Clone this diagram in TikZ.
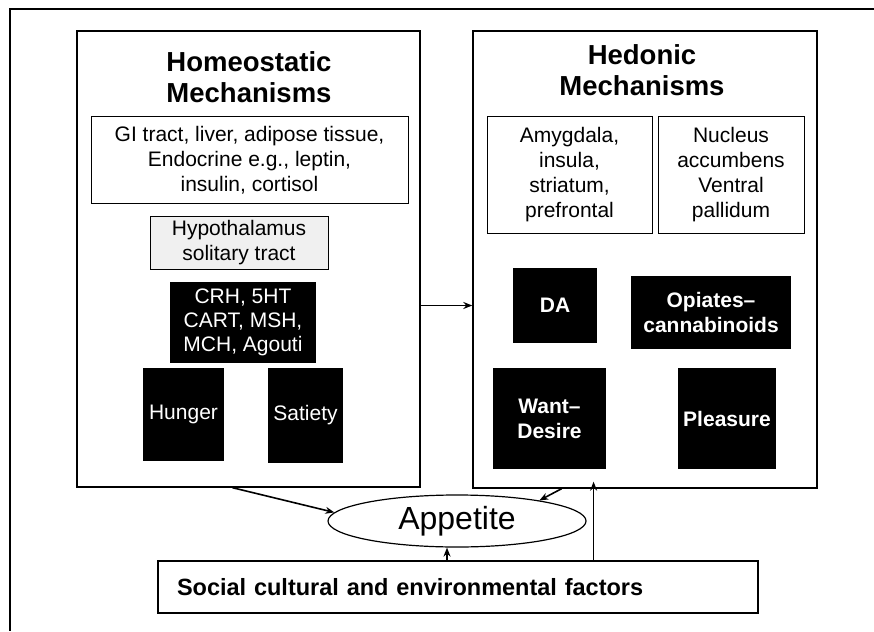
\documentclass[tikz,border=0pt]{standalone}
\usepackage{fontspec}
\setmainfont{Liberation Sans}
\usepackage{tikz}
\usetikzlibrary{shapes.geometric,arrows.meta}

\begin{document}
\begin{tikzpicture}[x=1pt,y=-1pt,
  panel/.style={draw,line width=1.4pt,inner sep=0pt},
  whitebox/.style={draw,line width=1pt,align=center,inner sep=0pt,font=\fontsize{21}{25}\selectfont},
  blackbox/.style={fill=black,text=white,align=center,inner sep=0pt,font=\fontsize{21}{24}\selectfont},
  boldbox/.style={blackbox,font=\fontsize{21}{25}\selectfont\bfseries},
  heading/.style={align=center,font=\fontsize{27.5}{31}\selectfont\bfseries},
  arr/.style={-{Stealth[length=9pt,width=7pt]},line width=1.6pt}]
\useasboundingbox (0,0) rectangle (874,631);

% Frame
\draw[line width=2pt] (874,9) -- (10,9) -- (10,631);

% Homeostatic side
\node[panel,minimum width=343,minimum height=456] (homeo) at (248.5,259) {};
\node[heading] (homeotitle) at (249,77) {Homeostatic\\Mechanisms};
\node[whitebox,minimum width=317,minimum height=86] (gi) at (249.5,160)
  {GI tract, liver, adipose tissue,\\Endocrine e.g., leptin,\\insulin, cortisol};
\node[whitebox,fill=black!6,minimum width=178,minimum height=53] (hypo) at (239,242.5)
  {Hypothalamus\\solitary tract};
\node[blackbox,minimum width=146,minimum height=81] (crh) at (243,322.5)
  {CRH, 5HT\\CART, MSH,\\MCH, Agouti};
\node[blackbox,minimum width=81,minimum height=93] (hunger) at (183.5,414.5) {Hunger};
\node[blackbox,minimum width=75,minimum height=95] (satiety) at (305.5,415.5) {Satiety};

% Hedonic side
\node[panel,minimum width=344,minimum height=457] (hedonic) at (645,259.5) {};
\node[heading] (hedtitle) at (642,70) {Hedonic\\Mechanisms};
\node[whitebox,minimum width=165,minimum height=116] (amyg) at (569.5,175)
  {Amygdala,\\insula,\\striatum,\\prefrontal};
\node[whitebox,minimum width=146,minimum height=116] (nucleus) at (731,175)
  {Nucleus\\accumbens\\Ventral\\pallidum};
\node[boldbox,minimum width=84,minimum height=75] (da) at (555,305.5) {DA};
\node[boldbox,minimum width=160,minimum height=73] (opiates) at (711,312.5)
  {Opiates–\\cannabinoids};
\node[boldbox,minimum width=113,minimum height=101] (want) at (549.5,418.5) {Want–\\Desire};
\node[boldbox,minimum width=98,minimum height=101] (pleasure) at (727,418.5) {Pleasure};

% Appetite and outside factors
\node[ellipse,draw,line width=1.2pt,inner sep=0pt,minimum width=258,minimum height=52,
  font=\fontsize{32}{36}\selectfont] (appetite) at (457,521) {Appetite};
\node[draw,line width=1.4pt,inner xsep=19pt,inner ysep=0pt,text width=562,align=left,
  minimum height=52,font=\fontsize{23.5}{27}\selectfont\bfseries] (social) at (458,587)
  {Social cultural and environmental factors};

% Flows
\draw[arr] (homeo.east |- da) -- (hedonic.west |- da);
\draw[arr] (homeo.266) -- (appetite.176);
\draw[arr] (hedonic.250) -- (appetite.14);
\draw[arr] (social.north -| 447,0) -- (appetite.south -| 447,0);
\draw[arr,shorten >=-7pt] (social.north -| want.311) -- (hedonic.south -| want.311);
\end{tikzpicture}
\end{document}
